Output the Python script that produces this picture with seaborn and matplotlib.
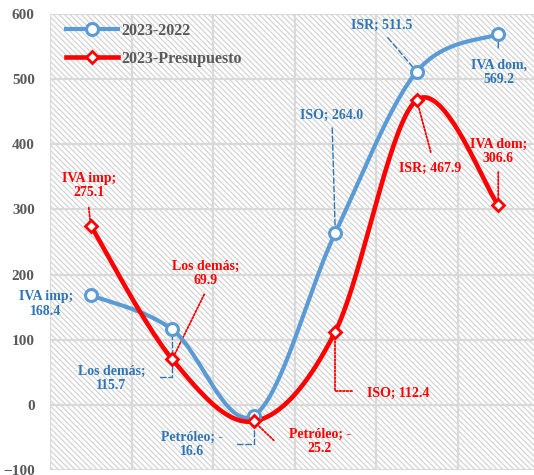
import numpy as np
import pandas as pd
import matplotlib
matplotlib.use("Agg")
import matplotlib.pyplot as plt
from matplotlib.patches import Rectangle
from matplotlib.lines import Line2D
import seaborn as sns

# ---- data ----
categories = ["IVA imp", "Los demás", "Petróleo", "ISO", "ISR", "IVA dom"]
series_names = ["2023-2022", "2023-Presupuesto"]
vals_2022 = [168.4, 115.7, -16.6, 264.0, 511.5, 569.2]
vals_presup = [275.1, 69.9, -25.2, 112.4, 467.9, 306.6]
labels_2022 = ["IVA imp;\n168.4", "Los demás;\n115.7", "Petróleo; -\n16.6",
               "ISO; 264.0", "ISR; 511.5", "IVA dom,\n569.2"]
labels_presup = ["IVA imp;\n275.1", "Los demás;\n69.9", "Petróleo; -\n25.2",
                 "ISO; 112.4", "ISR; 467.9", "IVA dom;\n306.6"]
yticks = [-100, 0, 100, 200, 300, 400, 500, 600]

BLUE = "#5B9BD5"
BLUE_TXT = "#2E75B6"
RED = "#FF0000"
GRAY = "#595959"

plt.rcParams["hatch.linewidth"] = 0.9
plt.rcParams["font.family"] = ["Liberation Serif", "DejaVu Serif"]

fig = plt.figure(figsize=(5.34, 4.75), dpi=100)
ax = fig.add_axes([50 / 534, 5 / 475, 489 / 534, 456 / 475])
ax.set_xlim(-0.5, 5.5)
ax.set_ylim(-100, 600)

# background hatch
ax.add_patch(Rectangle((0, 0), 1, 1, transform=ax.transAxes, facecolor="white",
                       hatch="\\" * 6, edgecolor="#d4d4d4", lw=0, zorder=0.1))

# grid
ax.set_yticks(yticks)
ax.set_xticks(np.arange(-0.5, 6.0, 1.0))
ax.grid(True, color="#d9d9d9", lw=1.6, zorder=0.5)
ax.set_axisbelow(True)
for s in ax.spines.values():
    s.set_visible(False)
ax.tick_params(axis="x", length=0, labelbottom=False)
ax.tick_params(axis="y", length=0, pad=11, labelsize=11, labelcolor=GRAY)
for t in ax.get_yticklabels():
    t.set_fontweight("bold")

# smoothing (Excel-like Bezier), computed in screen-proportional space
PX_X = 81.6
PX_Y = 456 / 700.0
ratio = PX_Y / PX_X


def smooth(xs, ys, n=40):
    P = np.column_stack([np.asarray(xs, float), np.asarray(ys, float) * ratio])
    out = []
    m = len(P)
    for i in range(m - 1):
        p0 = P[i - 1] if i > 0 else P[i]
        p3 = P[i + 2] if i + 2 < m else P[i + 1]
        c1 = P[i] + (P[i + 1] - p0) / 6.0
        c2 = P[i + 1] - (p3 - P[i]) / 6.0
        t = np.linspace(0, 1, n)[:, None]
        seg = ((1 - t) ** 3) * P[i] + 3 * ((1 - t) ** 2) * t * c1 + 3 * (1 - t) * t ** 2 * c2 + t ** 3 * P[i + 1]
        out.append(seg if i == 0 else seg[1:])
    S = np.vstack(out)
    return S[:, 0], S[:, 1] / ratio


xpos = np.arange(len(categories))
frames = []
for name, vals in zip(series_names, [vals_2022, vals_presup]):
    sx, sy = smooth(xpos, vals)
    frames.append(pd.DataFrame({"x": sx, "y": sy, "serie": name}))
curves = pd.concat(frames, ignore_index=True)

sns.lineplot(data=curves[curves.serie == series_names[0]], x="x", y="y", sort=False,
             color=BLUE, lw=3.0, ax=ax, zorder=3, legend=False)
sns.lineplot(data=curves[curves.serie == series_names[1]], x="x", y="y", sort=False,
             color=RED, lw=3.3, ax=ax, zorder=4, legend=False)
ax.plot(xpos, vals_2022, ls="none", marker="o", ms=8.6, mfc="white", mec=BLUE, mew=2.2, zorder=5)
ax.plot(xpos, vals_presup, ls="none", marker="D", ms=6.2, mfc="white", mec=RED, mew=2.0, zorder=6)
ax.set_xlabel("")
ax.set_ylabel("")
ax.set_xlim(-0.5, 5.5)
ax.set_ylim(-100, 600)

# labels: (text dx, dy) and leader end (dx, dy) in pixels (screen y down), elbow flag
blue_pos = [((-45, 9), None, False),
            ((-61, 49), (-12, 48), True),
            ((-62, 29), (-17, 28), True),
            ((-4, -118), (-3, -105), False),
            ((-35, -46), (-29, -34), False),
            ((1, 38), (0, 14), False)]
red_pos = [((-2, -40), (-2, -18), False),
           ((33, -86), (32, -65), False),
           ((66, 20), (20, 19), False),
           ((63, 62), (17, 59), True),
           ((13, 68), (14, 52), False),
           ((0, -54), (0, -33), False)]

PT = 0.72


def add_labels(vals, labels, pos, color, ls, lw):
    for i, (v, lab, (tp, lp, elbow)) in enumerate(zip(vals, labels, pos)):
        if lp is not None:
            cs = "angle,angleA=0,angleB=90,rad=0" if elbow else "arc3"
            ax.annotate("", xy=(i, v), xytext=(lp[0] * PT, -lp[1] * PT), textcoords="offset points",
                        arrowprops=dict(arrowstyle="-", color=color, ls=ls, lw=lw,
                                        shrinkA=0, shrinkB=0, connectionstyle=cs), zorder=2)
        ax.annotate(lab, xy=(i, v), xytext=(tp[0] * PT, -tp[1] * PT), textcoords="offset points",
                    ha="center", va="center", color=color, fontsize=10, fontweight="bold",
                    linespacing=1.15, zorder=7)


add_labels(vals_2022, labels_2022, blue_pos, BLUE_TXT, (0, (4, 2)), 1.0)
add_labels(vals_presup, labels_presup, red_pos, RED, (0, (1, 1)), 1.3)

handles = [Line2D([], [], color=BLUE, lw=3.0, marker="o", ms=8.6, mfc="white", mec=BLUE, mew=2.2),
           Line2D([], [], color=RED, lw=3.3, marker="D", ms=6.2, mfc="white", mec=RED, mew=2.0)]
leg = ax.legend(handles, series_names, loc="upper left", bbox_to_anchor=(10 / 489, 0.995),
                frameon=False, handlelength=3.2, handletextpad=0.25, labelspacing=0.75,
                borderaxespad=0, prop=dict(family="Liberation Serif", weight="bold", size=11.5))
for t in leg.get_texts():
    t.set_color(GRAY)

fig.savefig("out.png", dpi=100)
